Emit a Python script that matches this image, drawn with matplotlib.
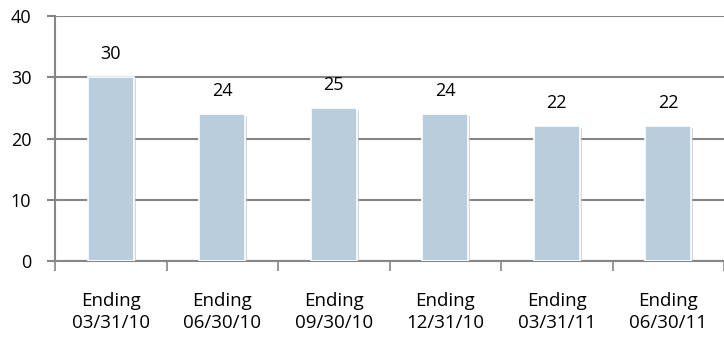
import matplotlib
matplotlib.use("Agg")
import matplotlib.pyplot as plt
import matplotlib.patheffects as pe
import numpy as np

categories = ["Ending\n03/31/10", "Ending\n06/30/10", "Ending\n09/30/10",
              "Ending\n12/31/10", "Ending\n03/31/11", "Ending\n06/30/11"]
values = [30, 24, 25, 24, 22, 22]
yticks = [0, 10, 20, 30, 40]

plt.rcParams['font.family'] = ['Open Sans', 'DejaVu Sans']

fig = plt.figure(figsize=(7.24, 3.37), dpi=100)
W, H = 724, 337
ax = fig.add_axes([55 / W, (H - 261) / H, (724 - 55) / W, (261 - 16) / H])

x = np.arange(len(categories))
bars = ax.bar(x, values, width=0.41, color="#B9CDDD", edgecolor="white",
              linewidth=1.2, zorder=3)
for b in bars:
    b.set_path_effects([pe.SimplePatchShadow(offset=(1.5, -1.5), shadow_rgbFace="#bbbbbb", alpha=0.6),
                        pe.Normal()])

for xi, v in zip(x, values):
    ax.annotate(str(v), (xi, v), xytext=(0, 10), textcoords="offset points",
                ha="center", va="bottom", fontsize=13, color="black")

ax.set_xlim(-0.5, len(categories) - 0.5)
ax.set_ylim(0, 40)
ax.set_yticks(yticks)
ax.set_yticklabels([str(t) for t in yticks], fontsize=13)
ax.yaxis.grid(True, color="#868686", linewidth=1.5, zorder=0)
ax.set_axisbelow(True)

ax.set_xticks(x)
ax.set_xticklabels(categories, fontsize=13.5, linespacing=1.3)
ax.tick_params(axis="x", which="major", length=0, pad=22)
ax.set_xticks(np.arange(len(categories) + 1) - 0.5, minor=True)
ax.tick_params(axis="x", which="minor", length=7, width=1.2, color="#868686")
ax.tick_params(axis="y", length=6, width=1.5, color="#868686", pad=11)

for s in ["top", "right"]:
    ax.spines[s].set_visible(False)
for s in ["left", "bottom"]:
    ax.spines[s].set_color("#868686")
    ax.spines[s].set_linewidth(1.5)

fig.savefig("out.png", dpi=100)
